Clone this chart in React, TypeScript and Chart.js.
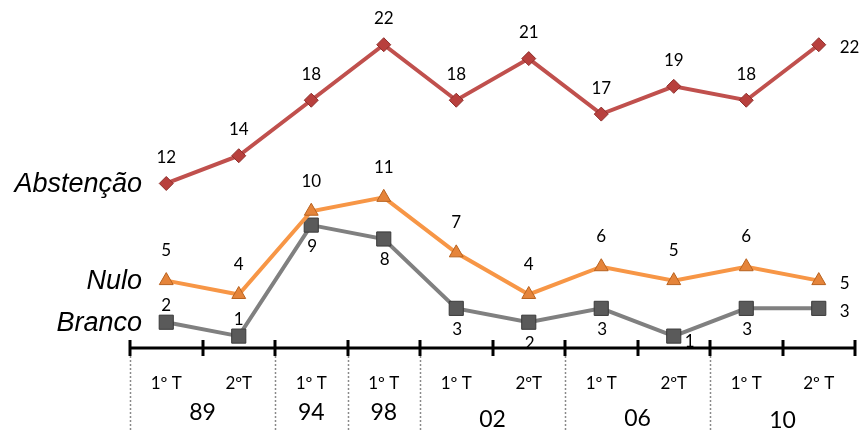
import React, { useEffect, useRef } from "react";
import { Chart, registerables } from "chart.js";

Chart.register(...registerables);

// Turnos (rounds) and election years along the bottom axis
const turnos = ["1º T", "2ºT", "1º T", "1º T", "1º T", "2ºT", "1º T", "2ºT", "1º T", "2º T"];
const anos = ["89", "94", "98", "02", "06", "10"];
const turnosPorAno = [2, 1, 1, 2, 2, 2];

// Series values (%)
const abstencao = [12, 14, 18, 22, 18, 21, 17, 19, 18, 22];
const nulo = [5, 4, 10, 11, 7, 4, 6, 5, 6, 5];
const branco = [2, 1, 9, 8, 3, 2, 3, 1, 3, 3];

const seriesNames = ["Abstenção", "Nulo", "Branco"];

// where each value label sits relative to its point
const posAbstencao = ["above", "above", "above", "above", "above", "above", "above", "above", "above", "right"];
const posNulo = ["above", "above", "above", "above", "above", "above", "above", "above", "above", "right"];
const posBranco = ["above", "above", "below", "below", "below", "below", "below", "belowRight", "below", "right"];
// vertical gap of "above" / "below" labels for each series
const gapAbove = [26, 30, 17];
const gapBelow = [24, 24, 21];

const AXIS_Y = 348;
const yearLabelY = [413, 413, 413, 420, 419, 421];

const overlayPlugin = {
  id: "overlay",
  afterDraw(chart: any) {
    const ctx = chart.ctx as CanvasRenderingContext2D;
    const x = chart.scales.x;
    const area = chart.chartArea;
    const n = turnos.length;
    const step = (area.right - area.left) / n;
    const boundary = (i: number) => area.left + step * i;

    ctx.save();
    // axis line with crossing ticks
    ctx.strokeStyle = "#000";
    ctx.lineWidth = 3;
    ctx.beginPath();
    ctx.moveTo(area.left, AXIS_Y);
    ctx.lineTo(area.right, AXIS_Y);
    ctx.stroke();
    for (let i = 0; i <= n; i++) {
      const bx = Math.round(boundary(i));
      ctx.beginPath();
      ctx.moveTo(bx, AXIS_Y - 8);
      ctx.lineTo(bx, AXIS_Y + 8);
      ctx.stroke();
    }

    // dotted separators between election years
    ctx.strokeStyle = "#8a8a8a";
    ctx.lineWidth = 1.5;
    ctx.setLineDash([2, 2]);
    let idx = 0;
    turnosPorAno.forEach((span) => {
      const bx = Math.round(boundary(idx)) + 0.5;
      ctx.beginPath();
      ctx.moveTo(bx, AXIS_Y + 8);
      ctx.lineTo(bx, 430);
      ctx.stroke();
      idx += span;
    });
    ctx.setLineDash([]);

    // round labels
    ctx.fillStyle = "#000";
    ctx.textAlign = "center";
    ctx.textBaseline = "middle";
    ctx.font = "17px Lato, 'Open Sans', sans-serif";
    turnos.forEach((t, i) => {
      ctx.fillText(t, x.getPixelForValue(i), 384);
    });

    // year labels
    ctx.font = "23px Lato, 'Open Sans', sans-serif";
    idx = 0;
    anos.forEach((a, k) => {
      const span = turnosPorAno[k];
      const cx = (boundary(idx) + boundary(idx + span)) / 2;
      ctx.fillText(a, cx, yearLabelY[k]);
      idx += span;
    });

    // series names at the left of each line
    ctx.font = "italic 27px 'Liberation Sans', Arial, sans-serif";
    ctx.textAlign = "right";
    seriesNames.forEach((name, d) => {
      const first = chart.getDatasetMeta(d).data[0];
      ctx.fillText(name, 142, first.y + 1);
    });

    // value labels
    ctx.font = "17px Lato, 'Open Sans', sans-serif";
    const positions = [posAbstencao, posNulo, posBranco];
    chart.data.datasets.forEach((ds: any, d: number) => {
      const meta = chart.getDatasetMeta(d);
      meta.data.forEach((pt: any, i: number) => {
        const v = String(ds.data[i]);
        const pos = positions[d][i];
        if (pos === "right") {
          ctx.textAlign = "left";
          ctx.fillText(v, pt.x + 21, pt.y + 3);
        } else if (pos === "belowRight") {
          ctx.textAlign = "center";
          ctx.fillText(v, pt.x + 16, pt.y + 5);
        } else if (pos === "below") {
          ctx.textAlign = "center";
          ctx.fillText(v, pt.x + 1, pt.y + gapBelow[d]);
        } else {
          ctx.textAlign = "center";
          ctx.fillText(v, pt.x, pt.y - gapAbove[d]);
        }
      });
    });
    ctx.restore();
  },
};

export default function App() {
  const canvasRef = useRef<HTMLCanvasElement | null>(null);

  useEffect(() => {
    if (!canvasRef.current) return;
    const chart = new Chart(canvasRef.current, {
      type: "line",
      data: {
        labels: turnos,
        datasets: [
          {
            label: seriesNames[0],
            data: abstencao,
            borderColor: "#c0504d",
            borderWidth: 4,
            pointStyle: "rectRot",
            pointRadius: 7,
            pointBackgroundColor: "#b8403d",
            pointBorderColor: "#8e2f2c",
            pointBorderWidth: 1,
            tension: 0,
          },
          {
            label: seriesNames[1],
            data: nulo,
            borderColor: "#f79646",
            borderWidth: 4,
            pointStyle: "triangle",
            pointRadius: 8,
            pointBackgroundColor: "#e5843a",
            pointBorderColor: "#b8621f",
            pointBorderWidth: 1,
            tension: 0,
          },
          {
            label: seriesNames[2],
            data: branco,
            borderColor: "#808080",
            borderWidth: 4,
            pointStyle: "rect",
            pointRadius: 10,
            pointBackgroundColor: "#5a5a5a",
            pointBorderColor: "#3a3a3a",
            pointBorderWidth: 1,
            tension: 0,
          },
        ],
      },
      options: {
        responsive: false,
        animation: false,
        layout: { padding: { left: 130, right: 9, top: 8, bottom: 82 } },
        plugins: {
          legend: { display: false },
          tooltip: { enabled: false },
        },
        scales: {
          x: { display: false, offset: true, grid: { display: false } },
          y: { display: false, min: 0.143, max: 24.43, grid: { display: false } },
        },
      },
      plugins: [overlayPlugin],
    });
    return () => chart.destroy();
  }, []);

  return (
    <div style={{ position: "absolute", left: 0, top: 0, width: 866, height: 430, background: "#fff" }}>
      <canvas ref={canvasRef} width={866} height={430} />
    </div>
  );
}
